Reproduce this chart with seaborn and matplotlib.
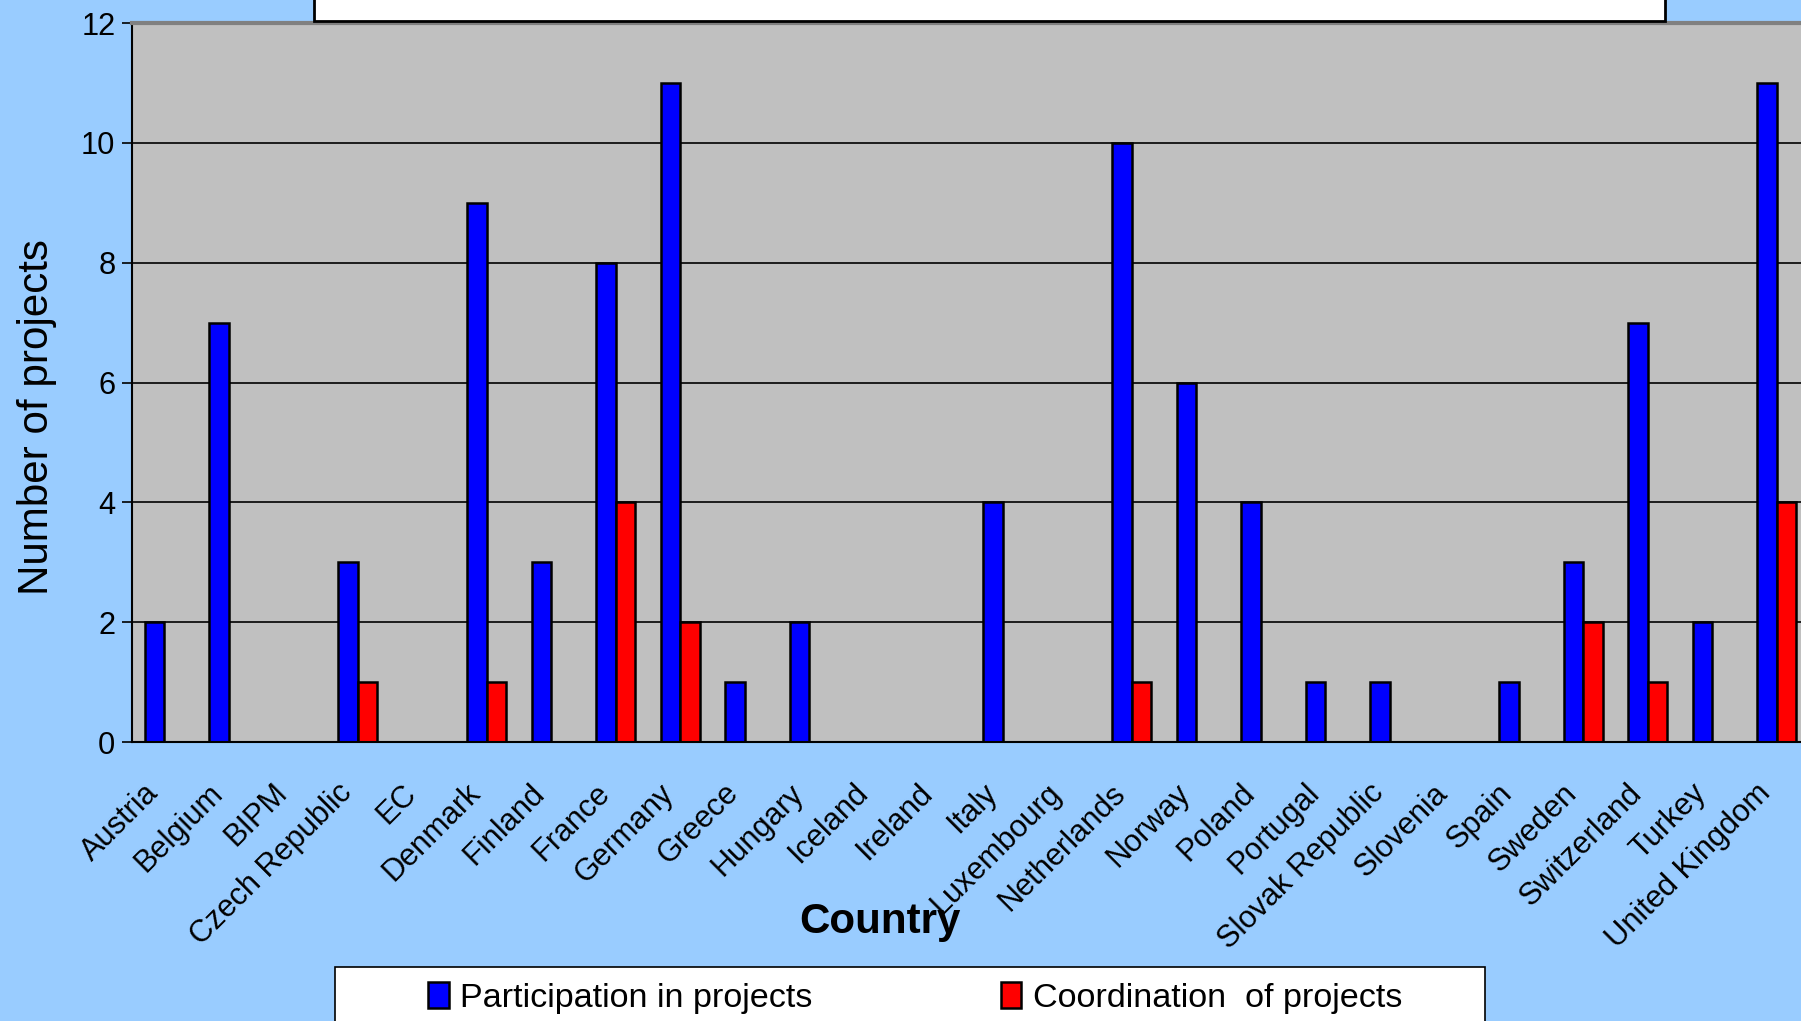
import matplotlib
matplotlib.use('Agg')
import numpy as np
import pandas as pd
import seaborn as sns
import matplotlib.pyplot as plt
from matplotlib.patches import Rectangle
from matplotlib import font_manager

countries = ['Austria', 'Belgium', 'BIPM', 'Czech Republic', 'EC', 'Denmark',
             'Finland', 'France', 'Germany', 'Greece', 'Hungary', 'Iceland',
             'Ireland', 'Italy', 'Luxembourg', 'Netherlands', 'Norway', 'Poland',
             'Portugal', 'Slovak Republic', 'Slovenia', 'Spain', 'Sweden',
             'Switzerland', 'Turkey', 'United Kingdom']
participation = [2, 7, 0, 3, 0, 9, 3, 8, 11, 1, 2, 0, 0, 4, 0, 10, 6, 4, 1, 1, 0, 1, 3, 7, 2, 11]
coordination = [0, 0, 0, 1, 0, 1, 0, 4, 2, 0, 0, 0, 0, 0, 0, 1, 0, 0, 0, 0, 0, 0, 2, 1, 0, 4]
series_names = ['Participation in projects', 'Coordination  of projects']
y_ticks = [0, 2, 4, 6, 8, 10, 12]

df = pd.DataFrame({
    'country': countries * 2,
    'projects': participation + coordination,
    'series': [series_names[0]] * len(countries) + [series_names[1]] * len(countries),
})

sns.set_style('white')
try:
    font_manager.findfont('Liberation Sans Narrow', fallback_to_default=False)
    narrow = True
    plt.rcParams['font.family'] = ['Liberation Sans Narrow', 'Liberation Sans', 'DejaVu Sans']
except Exception:
    narrow = False
    plt.rcParams['font.family'] = ['Liberation Sans', 'DejaVu Sans']
for key in ['text.color', 'axes.labelcolor', 'xtick.color', 'ytick.color']:
    plt.rcParams[key] = 'black'

k = 1.0 if narrow else 0.82
fig = plt.figure(figsize=(18.01, 10.21), dpi=100)
fig.patch.set_facecolor('#99CCFF')
ax = fig.add_axes([132 / 1801, 1 - 742 / 1021, 1677 / 1801, 719 / 1021])
ax.set_facecolor('#C0C0C0')

sns.barplot(data=df, x='country', y='projects', hue='series', order=countries,
            hue_order=series_names, palette=['#0000FF', '#FF0000'], saturation=1,
            width=0.6, edgecolor='black', linewidth=1.8, ax=ax)

handles, labels = ax.get_legend_handles_labels()
ax.get_legend().remove()

ax.set_xlim(-0.5, len(countries) - 0.5)
ax.set_ylim(0, 12)
ax.set_yticks(y_ticks)
ax.yaxis.grid(True, color='black', linewidth=1.2)
ax.set_axisbelow(True)

ax.set_xticks(np.arange(len(countries)))
ax.set_xticklabels(countries, rotation=45, ha='right', fontsize=27 * k)
ax.set_xticks(np.arange(len(countries) + 1) - 0.5, minor=True)
ax.tick_params(axis='x', which='major', length=0, pad=26)
ax.tick_params(axis='x', which='minor', length=7, width=1.2, color='black', direction='out')
ax.tick_params(axis='y', length=7, width=1.2, color='black', direction='out',
               labelsize=27 * k, pad=5, left=True)

for side in ['left', 'bottom']:
    ax.spines[side].set_color('black')
    ax.spines[side].set_linewidth(1.5)
ax.spines['top'].set_color('#808080')
ax.spines['top'].set_linewidth(3)
ax.spines['right'].set_visible(False)

ax.set_xlabel('')
ax.set_ylabel('Number of projects', fontsize=37 * k)
ax.yaxis.set_label_coords(-0.045, 0.452)
fig.text(880 / 1801, 1 - 922 / 1021, 'Country', fontsize=37 * k, fontweight='bold',
         ha='center', va='center')

# cut-off title box at top and legend box at bottom
fig.patches.append(Rectangle((314 / 1801, 1 - 21 / 1021), 1351 / 1801, 0.1,
                             transform=fig.transFigure, facecolor='white',
                             edgecolor='black', linewidth=2, zorder=5))
fig.patches.append(Rectangle((335 / 1801, -0.1), 1150 / 1801, 0.1 + 1 - 967 / 1021,
                             transform=fig.transFigure, facecolor='white',
                             edgecolor='black', linewidth=1.2, zorder=5))

leg = fig.legend(handles, labels, loc='center left',
                 bbox_to_anchor=(428 / 1801, 1 - 998 / 1021), ncol=2, frameon=False,
                 fontsize=30 * k, handlelength=0.6, handleheight=0.8,
                 handletextpad=0.35, columnspacing=5.5, borderpad=0, borderaxespad=0)
leg.set_zorder(6)

fig.savefig('out.png', dpi=100, facecolor=fig.get_facecolor())
